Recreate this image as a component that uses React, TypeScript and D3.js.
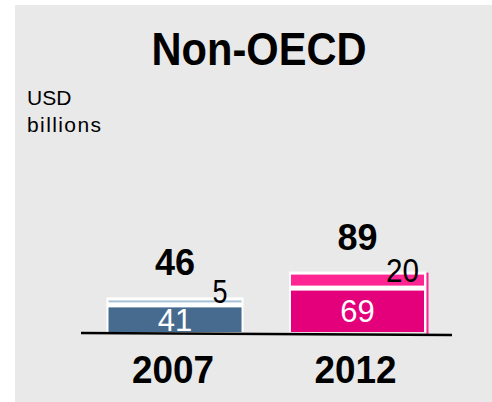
import React from "react";
import * as d3 from "d3";

const title = "Non-OECD";
const unitLines = ["USD", "billions"];
const years = ["2007", "2012"];
const baseValues = [41, 69];
const topValues = [5, 20];
const totals = [46, 89];
const baseColors = ["#466b8f", "#e4007a"];
const topColors = ["#a6c0d7", "#ff2593"];

const W = 492;
const H = 402;
const FONT = "'Liberation Sans', Arial, Helvetica, sans-serif";

export default function App() {
  const x = d3.scaleBand<string>().domain(years).range([108.5, 424]).paddingInner(0.271).paddingOuter(0);
  const y = d3.scaleLinear().domain([0, 100]).range([332, 272]);
  const gap = 4;
  const bw = x.bandwidth();

  return (
    <svg width={W} height={H} style={{ position: "absolute", left: 0, top: 0 }} fontFamily={FONT}>
      <rect x={15} y={5} width={W - 15} height={H - 5} fill="#e9e9e9" />
      <text x={259} y={65} textAnchor="middle" fontSize={46} fontWeight="bold" textLength={215} lengthAdjust="spacingAndGlyphs">
        {title}
      </text>
      <text x={27} y={105} fontSize={21}>{unitLines[0]}</text>
      <text x={27} y={132} fontSize={21} textLength={74} lengthAdjust="spacing">{unitLines[1]}</text>
      {years.map((yr, i) => {
        const x0 = x(yr)!;
        const cx = x0 + bw / 2;
        const b = baseValues[i];
        const t = topValues[i];
        const baseTop = y(b);
        const topTop = y(b + t) - gap;
        const topBottom = y(b) - gap;
        return (
          <g key={yr}>
            <rect x={x0 - 2} y={topTop - 3} width={bw + 4} height={332 - topTop + 3} fill="#ffffff" />
            <rect x={x0} y={topTop} width={bw} height={topBottom - topTop - 1} fill={topColors[i]} />
            <rect x={x0} y={baseTop} width={bw} height={332 - baseTop} fill={baseColors[i]} />
            {i === 1 && (
              <line x1={x0 + bw + 3.5} x2={x0 + bw + 3.5} y1={topTop - 2} y2={334} stroke={topColors[i]} strokeWidth={2} />
            )}
            <text x={cx} y={(baseTop + 332) / 2 + 11} textAnchor="middle" fontSize={31} fill="#ffffff">{b}</text>
            <text x={cx + 45} y={(topTop + topBottom) / 2 + 1} textAnchor="middle" fontSize={33} fill="#000" textLength={t >= 10 ? 33 : 15} lengthAdjust="spacingAndGlyphs">{t}</text>
            <text x={cx} y={topTop - 25} textAnchor="middle" fontSize={36} fontWeight="bold">{totals[i]}</text>
            <text x={cx - 2} y={383} textAnchor="middle" fontSize={39} fontWeight="bold" textLength={82} lengthAdjust="spacingAndGlyphs">{yr}</text>
          </g>
        );
      })}
      <line x1={81} x2={452} y1={333} y2={335} stroke="#000" strokeWidth={2.5} />
    </svg>
  );
}
